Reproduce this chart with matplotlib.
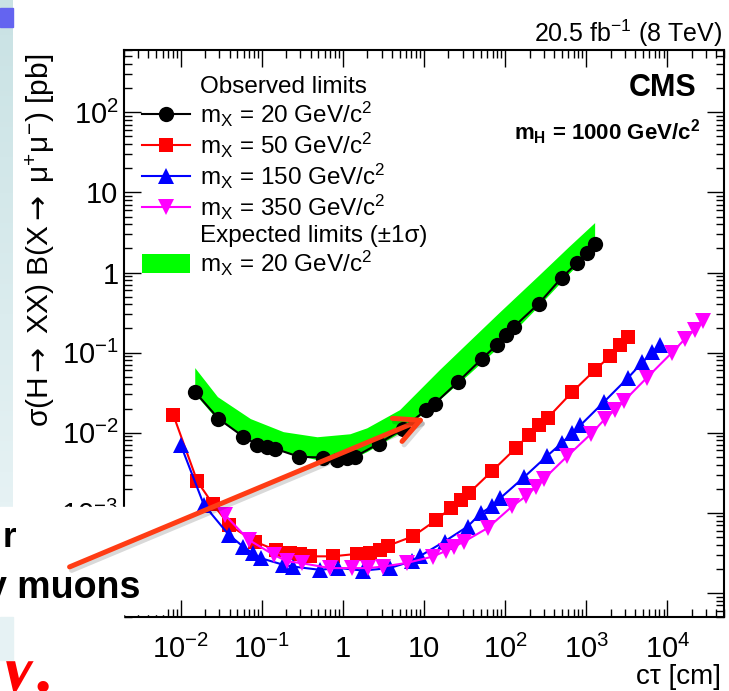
import numpy as np
import matplotlib
matplotlib.use('Agg')
import matplotlib.pyplot as plt
from matplotlib.lines import Line2D
from matplotlib.patches import Rectangle, Patch, FancyArrowPatch
from matplotlib.ticker import LogLocator, FuncFormatter, NullFormatter
import matplotlib.patheffects as pe

plt.rcParams['font.family'] = ['Liberation Sans', 'DejaVu Sans']
plt.rcParams['mathtext.fontset'] = 'custom'
plt.rcParams['mathtext.rm'] = 'Liberation Sans'
plt.rcParams['mathtext.it'] = 'Liberation Sans:italic'
plt.rcParams['mathtext.bf'] = 'Liberation Sans:bold'
plt.rcParams['mathtext.sf'] = 'DejaVu Sans'

W, H = 729, 691

# observed limits, m_X = 20 GeV
ct_20 = [0.0149, 0.0292, 0.0593, 0.088, 0.117, 0.147, 0.288, 0.569, 0.843, 1.12, 1.40,
         2.77, 5.45, 10.7, 13.5, 26.5, 52, 80, 103, 129, 261, 500, 764, 1014, 1270]
obs_20 = [0.0326, 0.015, 0.0089, 0.0071, 0.0067, 0.0063, 0.0050, 0.0049, 0.0046, 0.0049, 0.0050,
          0.0073, 0.0112, 0.0194, 0.023, 0.0434, 0.084, 0.126, 0.168, 0.211, 0.41, 0.866, 1.30, 1.73, 2.24]

# expected +-1 sigma band, m_X = 20 GeV
ct_exp = [0.0149, 0.0284, 0.0723, 0.184, 0.48, 1.22, 1.97, 5.0, 15.5, 36, 84, 261, 610, 1270]
exp_lo = [0.0307, 0.0145, 0.0082, 0.0058, 0.0046, 0.0046, 0.0058, 0.010, 0.0259, 0.0546, 0.119, 0.387, 0.97, 2.05]
exp_hi = [0.065, 0.0282, 0.015, 0.0103, 0.0089, 0.0097, 0.0115, 0.0194, 0.0613, 0.139, 0.316, 0.93, 2.11, 4.2]

# m_X = 50 GeV
ct_50 = [0.00814, 0.0160, 0.0247, 0.0399, 0.082, 0.151, 0.224, 0.296, 0.394, 0.748, 1.49, 2.14,
         2.85, 3.57, 7.29, 14.1, 21.6, 28.6, 36.2, 69.8, 136, 197, 261, 337, 670, 1297, 1982, 2630, 3320]
obs_50 = [0.0165, 0.00248, 0.0013, 0.000698, 0.000438, 0.00034, 0.000319, 0.000307, 0.000286,
          0.000286, 0.000307, 0.000316, 0.000345, 0.000387, 0.000508, 0.00081, 0.00116, 0.00145,
          0.00178, 0.00335, 0.00644, 0.00944, 0.0126, 0.0154, 0.0321, 0.0613, 0.091, 0.126, 0.158]

# m_X = 150 GeV
ct_150 = [0.01, 0.0193, 0.0392, 0.0588, 0.0771, 0.0977, 0.185, 0.244, 0.523, 0.869, 1.76, 3.77,
          7.03, 8.81, 17.9, 34.5, 50.3, 69.8, 86.9, 171, 332, 505, 670, 849, 1640, 3270, 4930, 6540, 8130]
obs_150 = [0.00708, 0.00126, 0.000531, 0.000379, 0.000313, 0.000271, 0.000224, 0.000213, 0.000194,
           0.000205, 0.00019, 0.000204, 0.000248, 0.000286, 0.000438, 0.000674, 0.00099, 0.00122,
           0.00152, 0.00278, 0.00516, 0.0075, 0.0099, 0.0124, 0.024, 0.0483, 0.0757, 0.101, 0.126]

# m_X = 350 GeV
ct_350 = [0.035, 0.0689, 0.14, 0.204, 0.311, 0.692, 1.28, 2.04, 3.12, 6.18, 12.8, 18.7, 23.7, 31.4,
          60.7, 123, 179, 238, 301, 581, 1151, 1720, 2280, 2885, 5570, 11300, 16500, 21900, 27700]
obs_350 = [0.000944, 0.00046, 0.000299, 0.000248, 0.000235, 0.000204, 0.000204, 0.000204, 0.000213,
           0.000237, 0.000284, 0.000335, 0.000379, 0.000438, 0.000644, 0.00121, 0.0016, 0.00209,
           0.00266, 0.00506, 0.0097, 0.015, 0.0194, 0.0246, 0.0483, 0.099, 0.148, 0.194, 0.246]


def fx(x):
    return x / W


def fy(y):
    return 1 - y / H


def log_label(v, pos):
    e = int(round(np.log10(v)))
    if e == 0:
        return '1'
    if e == 1:
        return '10'
    return r'$\mathregular{10^{%d}}$' % e


fig = plt.figure(figsize=(W / 100, H / 100), dpi=100)
ax = fig.add_axes([fx(124), fy(617), 600 / W, 567 / H])

ax.fill_between(ct_exp, exp_lo, exp_hi, color='#00ff00', lw=0, zorder=1)
l20, = ax.plot(ct_20, obs_20, '-o', color='black', ms=11, mew=0, lw=1.5, zorder=2)
l50, = ax.plot(ct_50, obs_50, '-s', color='#ff0000', ms=10, mew=0, lw=1.5, zorder=3)
l150, = ax.plot(ct_150, obs_150, '-^', color='#0000ff', ms=11, mew=0, lw=1.5, zorder=4)
l350, = ax.plot(ct_350, obs_350, '-v', color='#ff00ff', ms=11, mew=0, lw=1.5, zorder=5)

ax.set_xscale('log')
ax.set_yscale('log')
ax.set_xlim(2e-3, 5e4)
ax.set_ylim(5e-5, 600)

for axis in (ax.xaxis, ax.yaxis):
    axis.set_major_locator(LogLocator(base=10, numticks=20))
    axis.set_minor_locator(LogLocator(base=10, subs=np.arange(2, 10), numticks=50))
    axis.set_major_formatter(FuncFormatter(log_label))
    axis.set_minor_formatter(NullFormatter())

ax.tick_params(which='both', direction='in', top=True, right=True, labelsize=21, width=1)
ax.tick_params(which='major', length=12)
ax.tick_params(which='minor', length=6)
ax.tick_params(axis='x', pad=13)
ax.tick_params(axis='y', pad=4)
for s in ax.spines.values():
    s.set_linewidth(1.5)

blank = Line2D([], [], linestyle='none')
handles = [blank, l20, l50, l150, l350, blank, Patch(facecolor='#00ff00', edgecolor='none')]
labels = ['Observed limits',
          r'm$_{\mathregular{X}}$ = 20 GeV/c$^{\mathregular{2}}$',
          r'm$_{\mathregular{X}}$ = 50 GeV/c$^{\mathregular{2}}$',
          r'm$_{\mathregular{X}}$ = 150 GeV/c$^{\mathregular{2}}$',
          r'm$_{\mathregular{X}}$ = 350 GeV/c$^{\mathregular{2}}$',
          'Expected limits (±1σ)',
          r'm$_{\mathregular{X}}$ = 20 GeV/c$^{\mathregular{2}}$']
ax.legend(handles, labels, loc='upper left', bbox_to_anchor=(0.03, 0.955), frameon=False,
          fontsize=17.5, handlelength=1.98, handletextpad=0.41, labelspacing=0.08,
          borderpad=0, borderaxespad=0, handleheight=0.78)

fig.text(fx(722), fy(33), r'20.5 fb$^{\mathregular{-1}}$ (8 TeV)', ha='right', va='center', fontsize=18)
fig.text(fx(697), fy(88), 'CMS', ha='right', va='center', fontsize=22, weight='bold')
fig.text(fx(700), fy(132), r'$\mathbf{m_{H}}$ = 1000 GeV/c$^{\mathbf{2}}$', ha='right', va='center',
         fontsize=16, weight='bold')
fig.text(fx(721), fy(677), 'cτ [cm]', ha='right', va='center', fontsize=20)
fig.text(fx(40), fy(54),
         r'σ(H$\mathsf{\rightarrow}$ XX) B(X$\mathsf{\rightarrow}$ $\mathregular{\mu^{+}\mu^{-}}$) [pb]',
         rotation=90, ha='center', va='top', fontsize=21.5)

# slide elements around the pasted plot
fig.text(fx(57), fy(690), 'V.', ha='right', va='baseline', fontsize=68, style='italic',
         family='Liberation Serif', color='red', zorder=1)
fig.add_artist(Rectangle((fx(13), fy(660)), 110 / W, 60 / H, color='white',
                         transform=fig.transFigure, zorder=1.5))
strip = fig.add_axes([0, fy(507), 13 / W, 507 / H])
grad = np.linspace(0, 1, 100).reshape(-1, 1)
strip.imshow(grad, aspect='auto', cmap=matplotlib.colors.LinearSegmentedColormap.from_list(
    'strip', ['#c9e2e4', '#e6f2f4']))
strip.axis('off')
fig.add_artist(Rectangle((0, fy(27)), 13 / W, 19 / H, color='#6464f0', transform=fig.transFigure, zorder=6))
fig.add_artist(Rectangle((0, fy(660)), 13 / W, 43 / H, color='#e6f2f4', transform=fig.transFigure, zorder=2))
fig.add_artist(Rectangle((0, fy(614)), 165 / W, 107 / H, color='white', transform=fig.transFigure, zorder=5))

fig.text(fx(16), fy(547), 'r', ha='right', va='baseline', fontsize=25, weight='bold', zorder=7)
fig.text(fx(140), fy(598), 'y muons', ha='right', va='baseline', fontsize=27, weight='bold', zorder=7)

arrow = FancyArrowPatch((fx(67), fy(568)), (fx(428), fy(417)), transform=fig.transFigure,
                        arrowstyle='->,head_length=0.9,head_width=0.45', mutation_scale=20,
                        color='#ff3c14', lw=3.6, zorder=8,
                        path_effects=[pe.SimpleLineShadow(offset=(1.5, -2.5), alpha=0.15), pe.Normal()])
fig.add_artist(arrow)

fig.savefig('out.png', dpi=100)
